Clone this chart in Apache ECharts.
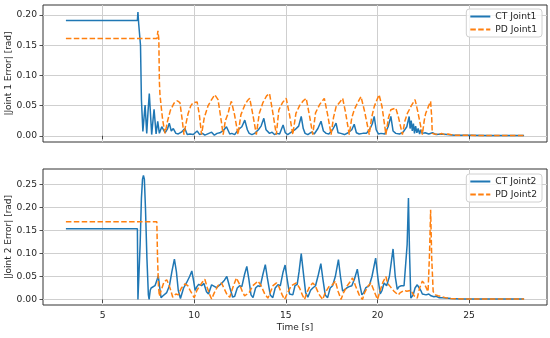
<!DOCTYPE html>
<html>
<head>
<meta charset="utf-8">
<script src="https://cdn.jsdelivr.net/npm/echarts@6/dist/echarts.min.js"></script>
<style>html,body{margin:0;padding:0;background:#fff}#c{width:550px;height:338px}</style>
</head>
<body>
<div id="c"></div>
<script>
// ---- data ----
const xTicks = [5, 10, 15, 20, 25];
const y1Ticks = [0, 0.05, 0.10, 0.15, 0.20];
const y2Ticks = [0, 0.05, 0.10, 0.15, 0.20, 0.25];
const seriesNames = ['CT Joint1', 'PD Joint1', 'CT Joint2', 'PD Joint2'];
const xLabel = 'Time [s]';
const y1Label = '|Joint 1 Error| [rad]';
const y2Label = '|Joint 2 Error| [rad]';

const ctJoint1 = [[3.0,0.191],[6.9,0.191],[6.93,0.205],[6.97,0.186],[7.02,0.183],[7.07,0.15],[7.12,0.06],[7.2,0.007],[7.32,0.051],[7.41,0.004],[7.48,0.04],[7.55,0.07],[7.68,0.002],[7.75,0.025],[7.81,0.044],[7.92,0.003],[8.01,0.024],[8.1,0.004],[8.23,0.015],[8.41,0.005],[8.55,0.012],[8.64,0.021],[8.75,0.008],[8.86,0.012],[9.0,0.004],[9.13,0.003],[9.3,0.006],[9.49,0.012],[9.62,0.002],[9.77,0.003],[9.95,0.002],[10.05,0.005],[10.16,0.008],[10.3,0.002],[10.45,0.004],[10.58,0.001],[10.8,0.004],[10.95,0.006],[11.1,0.001],[11.25,0.004],[11.4,0.005],[11.6,0.009],[11.76,0.015],[11.94,0.003],[12.05,0.004],[12.21,0.002],[12.4,0.01],[12.6,0.015],[12.76,0.026],[12.9,0.01],[13.0,0.004],[13.15,0.002],[13.3,0.004],[13.5,0.01],[13.65,0.016],[13.8,0.029],[13.92,0.01],[14.11,0.004],[14.25,0.006],[14.38,0.002],[14.52,0.004],[14.66,0.003],[14.85,0.018],[14.97,0.005],[15.1,0.002],[15.3,0.006],[15.5,0.01],[15.7,0.016],[15.84,0.032],[15.95,0.012],[16.05,0.004],[16.2,0.002],[16.4,0.006],[16.55,0.003],[16.75,0.012],[16.92,0.024],[17.05,0.008],[17.2,0.004],[17.35,0.003],[17.55,0.01],[17.74,0.021],[17.85,0.005],[18.0,0.004],[18.2,0.002],[18.4,0.005],[18.6,0.01],[18.73,0.019],[18.85,0.005],[19.0,0.003],[19.2,0.004],[19.4,0.004],[19.6,0.012],[19.72,0.02],[19.82,0.032],[19.93,0.01],[20.05,0.003],[20.2,0.004],[20.4,0.003],[20.58,0.015],[20.73,0.032],[20.85,0.008],[21.0,0.004],[21.2,0.003],[21.4,0.006],[21.6,0.015],[21.73,0.032],[21.78,0.012],[21.84,0.025],[21.9,0.008],[21.96,0.02],[22.02,0.004],[22.08,0.016],[22.15,0.005],[22.22,0.012],[22.3,0.003],[22.36,0.01],[22.45,0.004],[22.6,0.005],[22.8,0.003],[23.0,0.005],[23.2,0.002],[23.5,0.003],[23.8,0.002],[24.2,0.001],[25.0,0.001],[26.0,0.0005],[28.0,0.0005]];

const pdJoint1 = [[3.0,0.161],[7.97,0.161],[8.02,0.174],[8.07,0.16],[8.1,0.09],[8.13,0.069],[8.2,0.048],[8.28,0.026],[8.41,0.004],[8.55,0.025],[8.7,0.042],[8.9,0.054],[9.08,0.058],[9.22,0.055],[9.33,0.03],[9.44,0.002],[9.55,0.02],[9.67,0.037],[9.82,0.05],[9.95,0.055],[10.16,0.056],[10.28,0.035],[10.4,0.002],[10.55,0.03],[10.76,0.05],[10.95,0.06],[11.12,0.068],[11.3,0.06],[11.45,0.03],[11.58,0.002],[11.7,0.025],[11.85,0.037],[11.95,0.05],[12.03,0.057],[12.2,0.035],[12.39,0.002],[12.55,0.035],[12.75,0.05],[12.9,0.058],[13.03,0.062],[13.2,0.035],[13.39,0.002],[13.55,0.037],[13.75,0.055],[13.95,0.066],[14.11,0.07],[14.28,0.04],[14.48,0.002],[14.62,0.043],[14.82,0.055],[15.02,0.062],[15.2,0.035],[15.38,0.002],[15.55,0.037],[15.75,0.05],[15.95,0.058],[16.11,0.062],[16.28,0.035],[16.47,0.002],[16.62,0.038],[16.85,0.052],[17.1,0.062],[17.28,0.035],[17.47,0.002],[17.6,0.03],[17.74,0.048],[17.95,0.056],[18.1,0.062],[18.25,0.04],[18.46,0.002],[18.6,0.03],[18.73,0.043],[18.92,0.055],[19.1,0.065],[19.3,0.04],[19.55,0.002],[19.68,0.03],[19.82,0.048],[19.95,0.058],[20.09,0.068],[20.25,0.048],[20.46,0.002],[20.6,0.03],[20.73,0.043],[21.0,0.046],[21.15,0.03],[21.36,0.002],[21.5,0.025],[21.63,0.037],[21.85,0.05],[22.05,0.06],[22.2,0.04],[22.45,0.002],[22.55,0.025],[22.63,0.037],[22.8,0.05],[22.9,0.057],[22.96,0.03],[22.99,0.004],[23.1,0.003],[23.2,0.005],[23.35,0.002],[23.5,0.004],[23.65,0.002],[23.85,0.003],[24.1,0.001],[24.6,0.001],[25.5,0.0005],[28.0,0.0005]];

const ctJoint2 = [[3.0,0.154],[6.9,0.154],[6.93,0.0],[6.97,0.0],[7.05,0.12],[7.12,0.22],[7.18,0.262],[7.23,0.27],[7.28,0.262],[7.34,0.2],[7.42,0.09],[7.5,0.01],[7.54,0.0],[7.6,0.02],[7.65,0.025],[7.75,0.027],[7.86,0.03],[7.95,0.04],[8.04,0.052],[8.12,0.025],[8.19,0.004],[8.3,0.008],[8.5,0.015],[8.65,0.03],[8.78,0.06],[8.92,0.088],[9.03,0.06],[9.13,0.02],[9.25,0.002],[9.42,0.025],[9.59,0.037],[9.75,0.05],[9.87,0.062],[9.97,0.04],[10.05,0.02],[10.15,0.028],[10.25,0.033],[10.4,0.03],[10.53,0.035],[10.67,0.017],[10.78,0.012],[10.95,0.032],[11.05,0.03],[11.22,0.026],[11.35,0.03],[11.49,0.035],[11.65,0.042],[11.78,0.05],[11.95,0.025],[12.1,0.005],[12.21,0.007],[12.35,0.025],[12.48,0.03],[12.6,0.028],[12.75,0.055],[12.87,0.072],[12.98,0.045],[13.1,0.01],[13.21,0.004],[13.35,0.025],[13.48,0.03],[13.6,0.028],[13.75,0.055],[13.88,0.076],[14.0,0.045],[14.15,0.01],[14.29,0.004],[14.42,0.025],[14.57,0.032],[14.7,0.03],[14.85,0.06],[14.96,0.075],[15.07,0.045],[15.2,0.012],[15.38,0.01],[15.5,0.03],[15.62,0.033],[15.72,0.06],[15.84,0.1],[15.95,0.06],[16.08,0.015],[16.2,0.005],[16.35,0.02],[16.47,0.025],[16.62,0.03],[16.78,0.055],[16.91,0.078],[17.02,0.045],[17.15,0.01],[17.28,0.004],[17.42,0.025],[17.55,0.03],[17.7,0.05],[17.87,0.087],[17.98,0.05],[18.1,0.018],[18.19,0.014],[18.35,0.026],[18.46,0.028],[18.6,0.03],[18.75,0.045],[18.9,0.066],[19.02,0.035],[19.15,0.01],[19.25,0.015],[19.37,0.026],[19.55,0.03],[19.7,0.05],[19.9,0.09],[20.03,0.045],[20.15,0.012],[20.25,0.02],[20.36,0.036],[20.5,0.03],[20.65,0.05],[20.85,0.11],[20.97,0.05],[21.08,0.022],[21.18,0.028],[21.3,0.03],[21.45,0.03],[21.55,0.032],[21.62,0.12],[21.69,0.221],[21.75,0.1],[21.82,0.003],[21.95,0.01],[22.05,0.025],[22.17,0.032],[22.28,0.025],[22.36,0.02],[22.45,0.012],[22.54,0.009],[22.65,0.01],[22.8,0.012],[22.92,0.008],[23.08,0.006],[23.2,0.007],[23.35,0.004],[23.55,0.004],[23.72,0.003],[24.0,0.002],[24.5,0.001],[25.5,0.001],[28.0,0.001]];

const pdJoint2 = [[3.0,0.169],[7.96,0.169],[8.0,0.09],[8.05,0.03],[8.1,0.007],[8.2,0.02],[8.35,0.038],[8.5,0.043],[8.62,0.032],[8.72,0.02],[8.83,0.005],[9.0,0.012],[9.13,0.01],[9.3,0.025],[9.5,0.034],[9.65,0.03],[9.8,0.018],[10.0,0.004],[10.15,0.02],[10.31,0.03],[10.45,0.038],[10.58,0.044],[10.72,0.025],[10.85,0.01],[10.95,0.001],[11.1,0.015],[11.3,0.03],[11.49,0.036],[11.62,0.025],[11.8,0.01],[11.94,0.005],[12.1,0.025],[12.2,0.036],[12.3,0.047],[12.45,0.035],[12.6,0.02],[12.75,0.008],[12.85,0.005],[13.0,0.015],[13.2,0.03],[13.48,0.04],[13.65,0.03],[13.85,0.012],[14.02,0.003],[14.15,0.015],[14.3,0.03],[14.49,0.036],[14.62,0.028],[14.8,0.01],[14.93,0.0],[15.1,0.015],[15.3,0.03],[15.57,0.036],[15.75,0.025],[15.9,0.01],[16.02,0.0],[16.15,0.015],[16.3,0.028],[16.47,0.036],[16.6,0.03],[16.8,0.012],[17.01,0.0],[17.15,0.015],[17.35,0.028],[17.55,0.032],[17.7,0.04],[17.85,0.018],[18.01,0.0],[18.15,0.015],[18.35,0.03],[18.5,0.038],[18.64,0.047],[18.8,0.03],[19.0,0.01],[19.18,0.0],[19.3,0.015],[19.5,0.03],[19.64,0.036],[19.8,0.02],[20.0,0.0],[20.15,0.02],[20.3,0.038],[20.46,0.05],[20.55,0.035],[20.7,0.028],[20.9,0.018],[21.13,0.01],[21.25,0.015],[21.45,0.02],[21.6,0.018],[21.82,0.02],[22.0,0.008],[22.17,0.003],[22.3,0.025],[22.45,0.04],[22.55,0.035],[22.63,0.036],[22.76,0.017],[22.84,0.1],[22.9,0.195],[22.96,0.09],[23.04,0.017],[23.17,0.01],[23.3,0.008],[23.44,0.007],[23.7,0.004],[24.0,0.002],[25.0,0.001],[28.0,0.001]];

// ---- chart ----
const BLUE = '#1f77b4', ORANGE = '#ff7f0e', INK = '#262626', GRIDC = '#cfcfcf';
const FONT = 'DejaVu Sans';
const chart = echarts.init(document.getElementById('c'), null, {renderer: 'canvas'});

function xAxis(idx, showLabels) {
  return {
    gridIndex: idx, type: 'value', min: 1.75, max: 29.25,
    axisLine: {show: false},
    axisTick: {show: true, length: 3.5, customValues: xTicks, lineStyle: {color: INK, width: 0.8}},
    axisLabel: {show: showLabels, customValues: xTicks, margin: 6, color: INK, fontFamily: FONT, fontSize: 9.2},
    splitLine: {show: true, lineStyle: {color: GRIDC, width: 1}},
    name: showLabels ? xLabel : '', nameLocation: 'middle', nameGap: 18, nameMoveOverlap: false,
    nameTextStyle: {color: INK, fontFamily: FONT, fontSize: 9}
  };
}
function yAxis(idx, mn, mx, ticks, label) {
  return {
    gridIndex: idx, type: 'value', min: mn, max: mx,
    axisLine: {show: false},
    axisTick: {show: true, length: 3.5, customValues: ticks, lineStyle: {color: INK, width: 0.8}},
    axisLabel: {show: true, customValues: ticks, margin: 6, color: INK, fontFamily: FONT, fontSize: 9.2,
      formatter: v => v.toFixed(2)},
    splitLine: {show: true, lineStyle: {color: GRIDC, width: 1}},
    name: label, nameLocation: 'middle', nameGap: 30, nameRotate: 90, nameMoveOverlap: false,
    nameTextStyle: {color: INK, fontFamily: FONT, fontSize: 9}
  };
}
function line(name, data, color, dashed, xi) {
  return {
    name, type: 'line', data, xAxisIndex: xi, yAxisIndex: xi,
    symbol: 'none', smooth: false, animation: false,
    lineStyle: {color, width: 1.5, type: dashed ? [5.5, 2.4] : 'solid'},
    itemStyle: {color}
  };
}
function legend(names, top) {
  return {
    orient: 'vertical', right: 8, top, itemWidth: 20, itemHeight: 10, itemGap: 4,
    padding: [3, 5, 3, 3], borderColor: '#d0d0d0', borderWidth: 1, borderRadius: 3,
    backgroundColor: 'rgba(255,255,255,0.8)',
    data: names, itemStyle: {opacity: 0},
    textStyle: {color: INK, fontFamily: FONT, fontSize: 9.2}, selectedMode: false
  };
}

chart.setOption({
  animation: false,
  backgroundColor: '#fff',
  grid: [
    {left: 43, top: 5, width: 504, height: 137, containLabel: false, outerBoundsMode: 'none',
     show: true, borderColor: '#333', borderWidth: 1, backgroundColor: 'transparent'},
    {left: 43, top: 169, width: 504, height: 136, containLabel: false, outerBoundsMode: 'none',
     show: true, borderColor: '#333', borderWidth: 1, backgroundColor: 'transparent'}
  ],
  xAxis: [xAxis(0, false), xAxis(1, true)],
  yAxis: [yAxis(0, -0.0103, 0.2166, y1Ticks, y1Label), yAxis(1, -0.012, 0.284, y2Ticks, y2Label)],
  legend: [legend([seriesNames[0], seriesNames[1]], 9), legend([seriesNames[2], seriesNames[3]], 174)],
  series: [
    line(seriesNames[0], ctJoint1, BLUE, false, 0),
    line(seriesNames[1], pdJoint1, ORANGE, true, 0),
    line(seriesNames[2], ctJoint2, BLUE, false, 1),
    line(seriesNames[3], pdJoint2, ORANGE, true, 1)
  ]
});
</script>
</body>
</html>
